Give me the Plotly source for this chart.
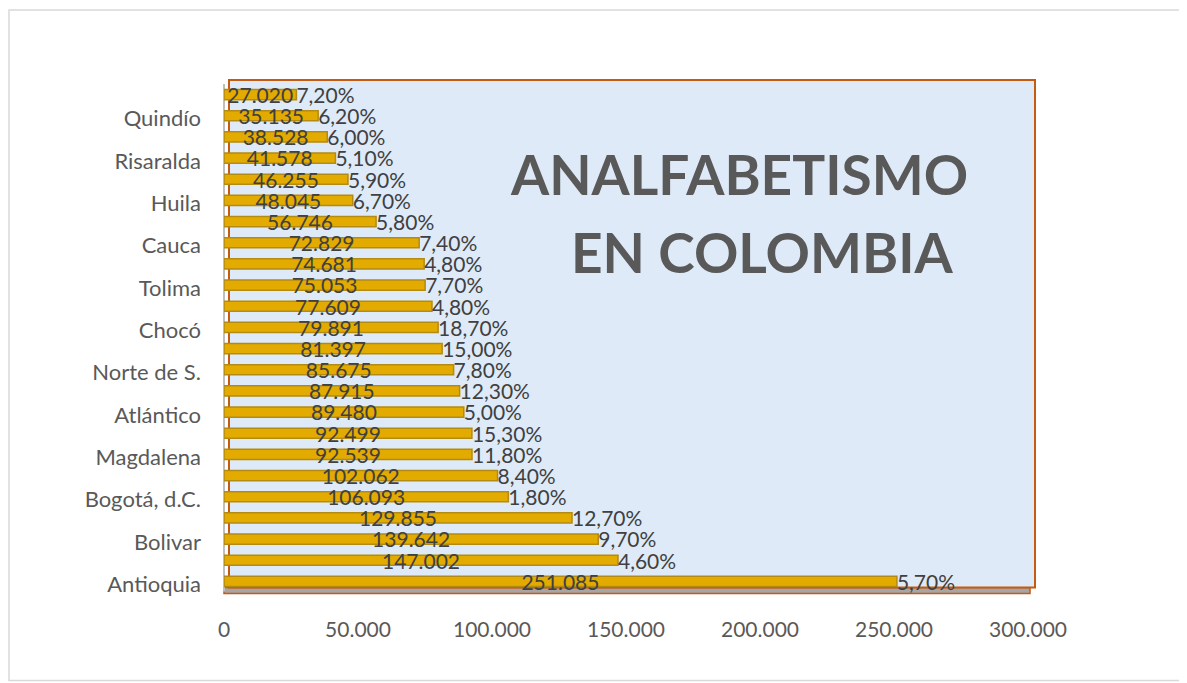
import plotly.graph_objects as go

# Data (bottom to top)
departamentos = ["Antioquia", "Valle del Cauca", "Bolivar", "Córdoba", "Bogotá, d.C.",
                 "Santander", "Magdalena", "Cesar", "Atlántico", "Sucre", "Norte de S.",
                 "La Guajira", "Chocó", "Cundinamarca", "Tolima", "Boyacá", "Cauca",
                 "Nariño", "Huila", "Caldas", "Risaralda", "Meta", "Quindío", "Caquetá"]
analfabetas = [251085, 147002, 139642, 129855, 106093, 102062, 92539, 92499, 89480,
               87915, 85675, 81397, 79891, 77609, 75053, 74681, 72829, 56746, 48045,
               46255, 41578, 38528, 35135, 27020]
tasa = [5.7, 4.6, 9.7, 12.7, 1.8, 8.4, 11.8, 15.3, 5.0, 12.3, 7.8, 15.0, 18.7, 4.8,
        7.7, 4.8, 7.4, 5.8, 6.7, 5.9, 5.1, 6.0, 6.2, 7.2]
etiquetas_visibles = departamentos[::2]
x_ticks = [0, 50000, 100000, 150000, 200000, 250000, 300000]

val_text = [f"{v:,}".replace(",", ".") for v in analfabetas]
pct_text = [f"{p:.2f}".replace(".", ",") + "%" for p in tasa]
half = [v / 2 for v in analfabetas]

FONT = "Lato"
OFF = 8  # page body margin
W, H = 1187 - OFF, 683 - OFF

fig = go.Figure()
fig.add_trace(go.Bar(
    y=departamentos, x=analfabetas, orientation="h", width=0.48, offset=-0.10,
    marker=dict(color="#E3AA00", line=dict(color="#B38B12", width=1.5)),
    hoverinfo="skip", showlegend=False))
fig.add_trace(go.Scatter(
    y=departamentos, x=half, mode="text", text=val_text,
    textposition="middle center", textfont=dict(family=FONT, size=21, color="#404040"),
    showlegend=False, hoverinfo="skip"))
fig.add_trace(go.Scatter(
    y=departamentos, x=analfabetas, mode="text", text=pct_text,
    textposition="middle right", textfont=dict(family=FONT, size=21, color="#404040"),
    showlegend=False, hoverinfo="skip"))

# plot area in page px (category range -0.5..23.5)
PL, PR, PT, PB = 224, 1028, 87.0, 594.6
L, R, T, B = PL - OFF, W - (PR - OFF), PT - OFF, H - (PB - OFF)
pw, ph = PR - PL, PB - PT
def px(x): return (x - PL) / pw
def py(y): return (PB - y) / ph

shapes = [
    # outer frame
    dict(type="rect", xref="paper", yref="paper", x0=px(9), x1=px(1180), y0=py(680), y1=py(10),
         line=dict(color="#D9D9D9", width=1.5), fillcolor="rgba(0,0,0,0)", layer="below"),
    # floor
    dict(type="rect", xref="paper", yref="paper", x0=px(224), x1=px(1030), y0=py(593), y1=py(587),
         line=dict(color="#C55A11", width=1.5), fillcolor="#A6A6A6", layer="below"),
    # back wall
    dict(type="rect", xref="paper", yref="paper", x0=px(229), x1=px(1035), y0=py(587), y1=py(80),
         line=dict(color="#C55A11", width=2), fillcolor="#DEEAF7", layer="below"),
    # left wall line
    dict(type="line", xref="paper", yref="paper", x0=px(224), x1=px(224), y0=py(591), y1=py(84),
         line=dict(color="#BFBFBF", width=2), layer="below"),
]

annotations = [
    dict(text="<b>ANALFABETISMO</b>", xref="paper", yref="paper", x=px(739), y=py(174),
         showarrow=False, xanchor="center", yanchor="middle",
         font=dict(family=FONT, size=55, color="#595959")),
    dict(text="<b>EN COLOMBIA</b>", xref="paper", yref="paper", x=px(762), y=py(252),
         showarrow=False, xanchor="center", yanchor="middle",
         font=dict(family=FONT, size=55, color="#595959")),
]

fig.update_layout(
    width=W, height=H,
    margin=dict(l=L, r=R, t=T, b=B),
    paper_bgcolor="white", plot_bgcolor="rgba(0,0,0,0)",
    separators=",.",
    shapes=shapes, annotations=annotations,
    xaxis=dict(range=[0, 300000], tickvals=x_ticks, tickformat=",d",
               showgrid=False, zeroline=False, showline=False, ticks="",
               tickfont=dict(family=FONT, size=21, color="#595959"), ticklabelstandoff=20),
    yaxis=dict(type="category", tickvals=etiquetas_visibles, showgrid=False, zeroline=False,
               showline=False, ticks="", range=[-0.5, len(departamentos) - 0.5],
               tickfont=dict(family=FONT, size=22, color="#595959"), ticklabelstandoff=22),
)

fig.write_html("out.html")
